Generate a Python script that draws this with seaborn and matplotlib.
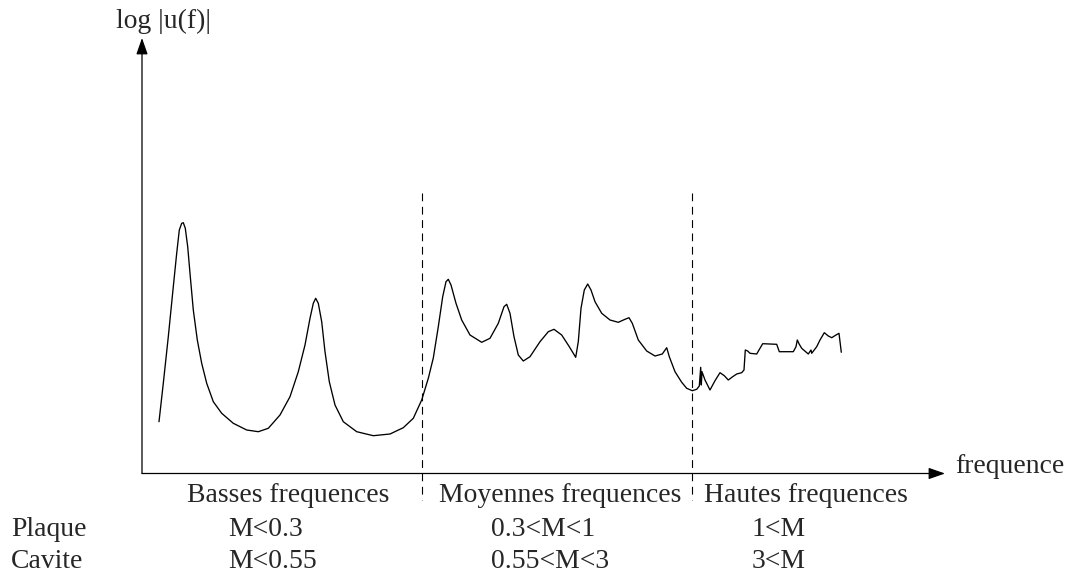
import seaborn as sns
import matplotlib.pyplot as plt
import pandas as pd

# curve, in pixel units (x right, y down)
curve_x = [159.0, 163.3, 168.3, 173.3, 176.7, 179.3, 181.7, 183.3, 185.3, 187.7, 190.0, 193.3, 197.3,
           201.7, 206.7, 213.3, 221.7, 233.3, 246.7, 258.3, 268.3, 280.0, 290.0, 298.3, 305.0, 310.0,
           313.3, 315.7, 318.3, 321.7, 325.0, 329.3, 335.0, 343.3, 356.7, 373.3, 390.0, 403.3, 413.3,
           421.7, 428.3, 433.3, 438.3, 442.7, 446.0, 448.3, 451.0, 456.0, 461.7, 470.0, 481.7, 490.0,
           498.3, 504.0, 506.7, 510.0, 514.0, 518.3, 523.3, 530.0, 540.0, 548.3, 554.0, 561.7, 569.3,
           575.7, 578.3, 581.0, 584.3, 587.7, 591.0, 595.0, 601.7, 610.0, 618.3, 625.0, 629.0, 632.3,
           638.3, 646.7, 655.0, 662.3, 666.7, 669.3, 675.0, 681.7, 686.7, 692.3, 696.7, 699.3, 700.7,
           701.3, 702.0, 705.0, 710.0, 715.0, 720.0, 724.3, 728.3, 732.7, 736.7, 741.7, 744.0, 745.3,
           747.7, 750.0, 756.7, 760.0, 762.7, 776.7, 779.3, 793.3, 796.0, 797.3, 799.3, 801.7, 808.3,
           811.0, 811.7, 816.7, 820.0, 824.3, 828.3, 831.7, 836.0, 839.0, 841.3]
curve_y = [421.7, 383.3, 336.7, 286.7, 253.3, 230.0, 223.3, 222.7, 228.3, 246.7, 273.3, 310.0, 340.0,
           363.3, 383.3, 401.7, 413.3, 423.3, 430.0, 431.7, 428.3, 415.0, 396.7, 371.7, 345.0, 318.3,
           303.3, 298.3, 303.3, 321.7, 351.7, 381.7, 405.0, 421.7, 431.7, 435.7, 434.0, 427.7, 418.3,
           400.0, 378.3, 358.0, 326.7, 296.7, 281.7, 279.3, 285.0, 303.3, 320.0, 335.0, 342.3, 338.3,
           323.3, 306.7, 304.3, 313.3, 336.7, 355.0, 361.0, 356.7, 341.7, 331.7, 329.3, 335.0, 346.7,
           357.3, 341.7, 308.3, 290.0, 284.0, 290.0, 301.7, 313.3, 320.0, 322.3, 319.3, 317.7, 323.3,
           340.0, 351.0, 356.0, 354.0, 347.7, 356.7, 371.7, 382.3, 388.3, 390.7, 389.3, 386.0, 367.3,
           385.0, 371.7, 380.0, 390.0, 380.7, 372.7, 375.7, 380.0, 376.7, 374.0, 372.7, 370.0, 350.0,
           351.0, 353.3, 354.0, 348.3, 343.7, 344.3, 351.7, 351.7, 346.7, 340.0, 344.3, 348.3, 354.0,
           350.0, 353.3, 346.7, 340.0, 332.7, 336.0, 337.7, 335.0, 333.3, 352.3]

region_labels = ["Basses frequences", "Moyennes frequences", "Hautes frequences"]
plaque_labels = ["M<0.3", "0.3<M<1", "1<M"]
cavite_labels = ["M<0.55", "0.55<M<3", "3<M"]
boundaries = [421.5, 692.0]

sns.set_style("white")
plt.rcParams["font.family"] = ["Liberation Serif", "DejaVu Serif"]

fig = plt.figure(figsize=(10.68, 5.76), dpi=100)
ax = fig.add_axes([0, 0, 1, 1])
ax.set_xlim(0, 1068)
ax.set_ylim(576, 0)
ax.axis("off")

df = pd.DataFrame({"x": curve_x, "y": curve_y})
sns.lineplot(data=df, x="x", y="y", sort=False, estimator=None, color="black", linewidth=0.95, ax=ax)
ax.set_xlabel("")
ax.set_ylabel("")

# axes with arrows
arrow = dict(arrowstyle="-|>,head_length=1.0,head_width=0.35", color="black", lw=0.9,
             shrinkA=0, shrinkB=0)
ax.annotate("", xy=(142, 38), xytext=(142, 473.5), arrowprops=arrow)
ax.annotate("", xy=(945, 473.5), xytext=(142, 473.5), arrowprops=arrow)

for b in boundaries:
    ax.plot([b, b], [193, 500], color="black", lw=0.8, linestyle=(0, (7, 5)))

fs = 19.9
ax.text(116, 28, "log |u(f)|", fontsize=fs, va="baseline", ha="left")
ax.text(955, 473, "frequence", fontsize=fs, va="baseline", ha="left")

centers = [288, 560, 806]
for c, lab in zip(centers, region_labels):
    ax.text(c, 501.5, lab, fontsize=fs, va="baseline", ha="center")

ax.text(11, 535.5, "Plaque", fontsize=fs, va="baseline", ha="left")
ax.text(11, 568, "Cavite", fontsize=fs, va="baseline", ha="left")
cols = [228, 491, 752]
for c, p, cv in zip(cols, plaque_labels, cavite_labels):
    ax.text(c, 535.5, p, fontsize=fs, va="baseline", ha="left")
    ax.text(c, 568, cv, fontsize=fs, va="baseline", ha="left")

fig.savefig("out.png", dpi=100)
